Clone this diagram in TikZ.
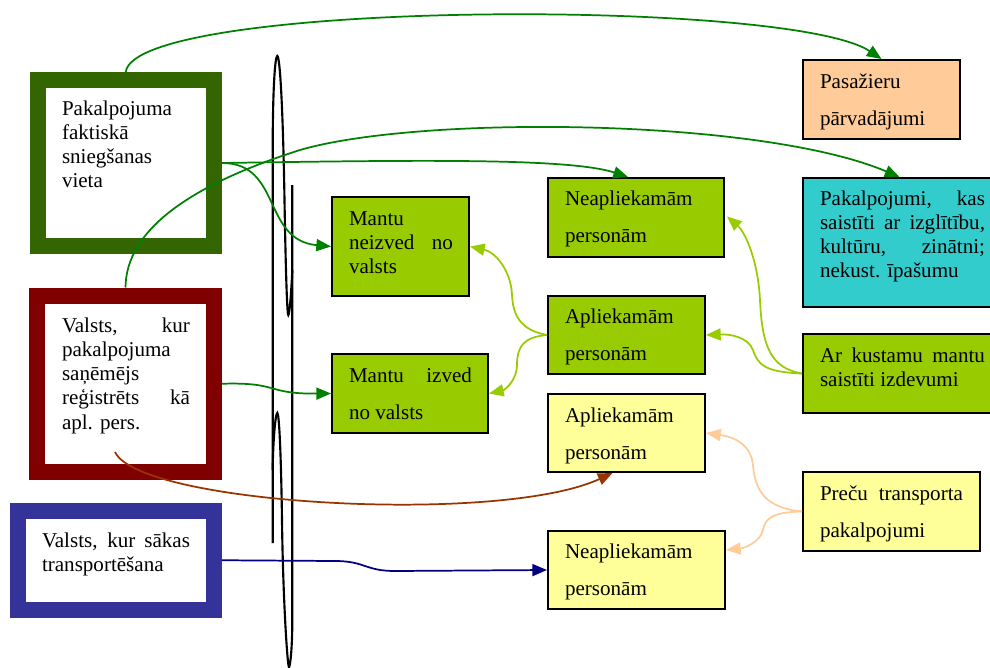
\documentclass[tikz,border=0pt]{standalone}
\usepackage{fontspec}
\setmainfont{Liberation Serif}
\usetikzlibrary{fit,calc,arrows.meta}

\definecolor{frameGreen}{HTML}{336600}
\definecolor{frameRed}{HTML}{800000}
\definecolor{frameBlue}{HTML}{333399}
\definecolor{leaf}{HTML}{99CC00}
\definecolor{lemon}{HTML}{FFFF99}
\definecolor{peach}{HTML}{FFCC99}
\definecolor{aqua}{HTML}{33CCCC}
\definecolor{linkGreen}{HTML}{008000}
\definecolor{linkBrown}{HTML}{993300}
\definecolor{linkNavy}{HTML}{000080}

\tikzset{
  box/.style={draw=black, line width=1.5pt, inner sep=0pt, outer sep=0.75pt},
  frame/.style={line width=12pt, fill=white, inner sep=0pt, outer sep=6pt},
  txt/.style={anchor=base west, inner sep=0pt, outer sep=0pt,
              font=\fontsize{15.8}{18.2}\selectfont},
  wide/.style={font=\fontsize{15.8}{27.75}\selectfont},
  link/.style={line width=1.3pt, -{Triangle[length=11pt,width=9pt]}},
  wave/.style={line width=1.6pt, draw=black},
}
\newcommand\fillline[1]{\makebox[\linewidth][s]{#1}}

\begin{document}
\begin{tikzpicture}[x=0.75pt,y=-0.75pt]
  \fill[white] (0,0) rectangle (990,668);
  \useasboundingbox (0,0) rectangle (990,668);

  % the two tall wave strokes separating the left column
  \draw[wave] (272.7,543) -- (272.7,150)
     .. controls (272.7,90) and (275,56) .. (277.3,56)
     .. controls (280,56) and (283,110) .. (284.5,200)
     .. controls (285.5,260) and (287,315) .. (288.3,315)
     .. controls (289.5,315) and (291.5,290) .. (292.3,270);
  \draw[wave] (292.3,185) -- (292.3,620)
     .. controls (292.3,650) and (290,667) .. (289,667)
     .. controls (287.5,667) and (283,600) .. (282,520)
     .. controls (281,450) and (279,413) .. (277.3,413)
     .. controls (275.5,413) and (273,440) .. (272.7,470);

  % left framed boxes
  \node[frame, draw=frameGreen, fit={(37.5,80)(214,246)}] (pf) {};
  \node[frame, draw=frameRed,   fit={(37,295.5)(214,472)}] (rf) {};
  \node[frame, draw=frameBlue,  fit={(18,511)(214,609.5)}] (bf) {};

  % right-hand boxes
  \node[box, fill=peach, fit={(803,60)(960,139)}]  (pas) {};
  \node[box, fill=leaf,  fit={(548,178)(724,257)}] (neap1) {};
  \node[box, fill=aqua,  fit={(803,178)(996,307)}] (cy) {};
  \node[box, fill=leaf,  fit={(332,197)(469,296)}] (mn) {};
  \node[box, fill=leaf,  fit={(548,296)(705,374)}] (ap) {};
  \node[box, fill=leaf,  fit={(803,334)(996,413)}] (ak) {};
  \node[box, fill=leaf,  fit={(332,354)(488,433)}] (mi) {};
  \node[box, fill=lemon, fit={(548,394)(705,472)}] (ya) {};
  \node[box, fill=lemon, fit={(803,472)(980,551)}] (pr) {};
  \node[box, fill=lemon, fit={(548,531)(725,609)}] (yn) {};

  % texts
  \node[txt] (pf-t) at (62,115) {\parbox[t]{110pt}{Pakalpojuma\\faktiskā\\sniegšanas\\vieta}};
  \node[txt] (rf-t) at (62,332) {\parbox[t]{96pt}{\fillline{Valsts, kur}\\pakalpojuma\\saņēmējs\\\fillline{reģistrēts kā}\\apl. pers.}};
  \node[txt] (bf-t) at (42,547) {\parbox[t]{111pt}{\fillline{Valsts, kur sākas}\\transportēšana}};
  \node[txt,wide] (pas-t) at (820,88) {\parbox[t]{110pt}{Pasažieru\\pārvadājumi}};
  \node[txt,wide] (neap1-t) at (565,205) {\parbox[t]{110pt}{Neapliekamām\\personām}};
  \node[txt] (cy-t) at (820,205) {\parbox[t]{123.75pt}{\fillline{Pakalpojumi, kas}\\\fillline{saistīti ar izglītību,}\\\fillline{kultūru, zinātni;}\\nekust. īpašumu}};
  \node[txt] (mn-t) at (349,225) {\parbox[t]{78pt}{Mantu\\\fillline{neizved no}\\valsts}};
  \node[txt,wide] (ap-t) at (565,323) {\parbox[t]{110pt}{Apliekamām\\personām}};
  \node[txt] (ak-t) at (820,362) {\parbox[t]{123.75pt}{\fillline{Ar kustamu mantu}\\saistīti izdevumi}};
  \node[txt,wide] (mi-t) at (349,382) {\parbox[t]{92.25pt}{\fillline{Mantu izved}\\no valsts}};
  \node[txt,wide] (ya-t) at (565,422) {\parbox[t]{110pt}{Apliekamām\\personām}};
  \node[txt,wide] (pr-t) at (820,500) {\parbox[t]{107.25pt}{\fillline{Preču transporta}\\pakalpojumi}};
  \node[txt,wide] (yn-t) at (565,558) {\parbox[t]{110pt}{Neapliekamām\\personām}};

  \coordinate (bs) at (115,452);

  % dark green links
  \draw[link, linkGreen] (pf.north) .. controls (135,0) and (790,-2) .. (pas.north);
  \draw[link, linkGreen] (pf.east) .. controls (420,160) and (570,158) .. ($(neap1.north)+(-8,0)$);
  \draw[link, linkGreen] (pf.east) .. controls (282,163) and (262,240) .. (mn.west);
  \draw[link, linkGreen] (rf.north) .. controls (126,230) and (190,185) .. (300,150)
        .. controls (420,115) and (760,118) .. (cy.north);
  \draw[link, linkGreen] (rf.east) .. controls (280,382) and (265,394) .. (mi.west);

  % brown and navy links
  \draw[link, linkBrown] (bs) .. controls (140,505) and (500,525) .. ($(ya.south)+(-14,0)$);
  \draw[link, linkNavy] (bf.east) -- (335,561) .. controls (365,561) and (365,571) .. (395,571) -- (yn.west);

  % light green links
  \draw[link, leaf] (ap.west) .. controls (520,330) and (513,315) .. (512,295)
        .. controls (511,270) and (495,252) .. (mn.east);
  \draw[link, leaf] (ap.west) .. controls (525,337) and (517,345) .. (517,365)
        .. controls (517,380) and (505,390) .. (mi.east);
  \draw[link, leaf] (ak.west) .. controls (770,368) and (762,345) .. (760,300)
        .. controls (758,260) and (745,232) .. ($(neap1.east)+(2,-1)$);
  \draw[link, leaf] (ak.west) .. controls (765,372) and (758,365) .. (753,350)
        .. controls (748,337) and (730,334) .. (ap.east);

  % peach links
  \draw[link, peach] (pr.west) .. controls (765,508) and (755,490) .. (753,465)
        .. controls (751,445) and (735,437) .. (ya.east);
  \draw[link, peach] (pr.west) .. controls (770,512) and (765,520) .. (763,530)
        .. controls (760,542) and (745,548) .. ($(yn.east)+(0,-20)$);
\end{tikzpicture}
\end{document}
